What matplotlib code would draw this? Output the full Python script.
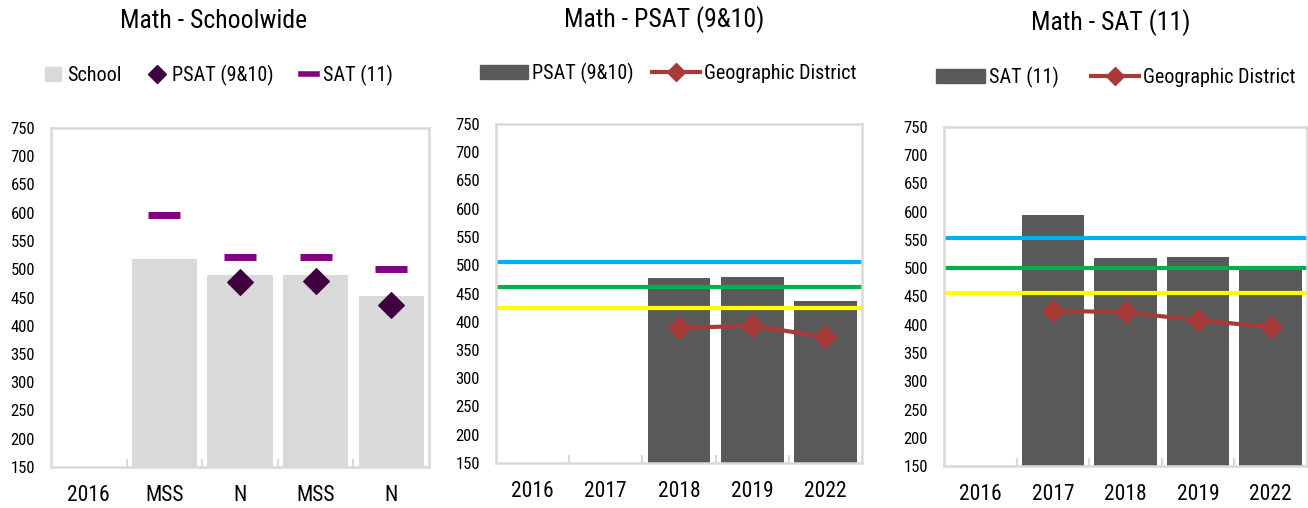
import numpy as np
import matplotlib
matplotlib.use("Agg")
import matplotlib.pyplot as plt
from matplotlib.patches import Patch
from matplotlib.lines import Line2D

plt.rcParams['font.family'] = ['Roboto Condensed', 'DejaVu Sans']
plt.rcParams['font.stretch'] = 'condensed'

# ---- data ----
school_cats = ["2016", "MSS", "N", "MSS", "N"]
school_vals = [np.nan, 518, 490, 490, 452]
school_psat = [np.nan, np.nan, 478, 480, 437]
school_sat = [np.nan, 596, 521, 521, 500]

psat_years = ["2016", "2017", "2018", "2019", "2022"]
psat_vals = [np.nan, np.nan, 478, 480, 436]
psat_district = [np.nan, np.nan, 389, 393, 373]
psat_refs = [505, 462, 424]

sat_years = ["2016", "2017", "2018", "2019", "2022"]
sat_vals = [np.nan, 594, 519, 520, 499]
sat_district = [np.nan, 425, 422, 408, 396]
sat_refs = [554, 501, 457]

ref_colors = ["#00b0f0", "#00b050", "#ffff00"]
light_gray = "#d9d9d9"
dark_gray = "#595959"
dist_red = "#a83a3a"

W, H = 1308, 508
fig = plt.figure(figsize=(W / 100, H / 100), dpi=100)


def make_ax(x0, y0, x1, y1):
    # pixel box -> figure fraction
    return fig.add_axes([x0 / W, 1 - y1 / H, (x1 - x0) / W, (y1 - y0) / H])


def style_ax(ax, cats, title, title_xy):
    ax.set_ylim(150, 750)
    ax.set_xlim(-0.5, len(cats) - 0.5)
    ax.set_yticks(range(150, 751, 50))
    ax.set_xticks(range(len(cats)))
    ax.set_xticklabels(cats, fontsize=15.5)
    ax.set_xticks(np.arange(0.5, len(cats) - 1, 1), minor=True)
    ax.tick_params(axis='x', which='major', length=0, pad=13)
    ax.tick_params(axis='x', which='minor', direction='in', length=6,
                   color=light_gray, width=1.5)
    ax.tick_params(axis='y', length=0, labelsize=12, pad=11.5)
    for s in ax.spines.values():
        s.set_color(light_gray)
        s.set_linewidth(1.8)
    fig.text(title_xy[0] / W, 1 - title_xy[1] / H, title, ha='center', va='center',
             fontsize=18.5)


x = np.arange(5)

# ---- panel 1: schoolwide ----
ax1 = make_ax(51, 128, 429, 467)
ax1.bar(x, school_vals, width=0.86, color=light_gray, zorder=1)
ax1.scatter(x, school_psat, marker='D', s=170, color="#400040", zorder=3)
ax1.scatter(x, school_sat, marker='_', s=500, linewidths=5, color="#800080", zorder=3)
style_ax(ax1, school_cats, "Math - Schoolwide", (214, 21))
h1 = [Patch(color=light_gray),
      Line2D([], [], marker='D', color="#400040", linestyle='none', markersize=9),
      Line2D([], [], color="#800080", linewidth=4)]
ax1.legend(h1, ["School", "PSAT (9&10)", "SAT (11)"], ncol=3, frameon=False,
           loc='center', bbox_to_anchor=(219 / W, 1 - 75 / H),
           bbox_transform=fig.transFigure, fontsize=14.5, handlelength=0.8,
           handletextpad=0.3, columnspacing=1.4, borderpad=0)

# ---- panel 2: PSAT ----
ax2 = make_ax(496, 124, 862, 463)
ax2.bar(x, psat_vals, width=0.86, color=dark_gray, zorder=1)
for v, c in zip(psat_refs, ref_colors):
    ax2.axhline(v, color=c, linewidth=3, zorder=2)
ax2.plot(x, psat_district, color=dist_red, linewidth=3, marker='D', markersize=11,
         zorder=3)
style_ax(ax2, psat_years, "Math - PSAT (9&10)", (664, 20))
h2 = [Patch(color=dark_gray),
      Line2D([], [], color=dist_red, linewidth=3, marker='D', markersize=9)]
ax2.legend(h2, ["PSAT (9&10)", "Geographic District"], ncol=2, frameon=False,
           loc='center', bbox_to_anchor=(668 / W, 1 - 73 / H),
           bbox_transform=fig.transFigure, fontsize=14.5, handlelength=2.4,
           handletextpad=0.2, columnspacing=0.9, borderpad=0)

# ---- panel 3: SAT ----
ax3 = make_ax(944, 127, 1307, 466)
ax3.bar(x, sat_vals, width=0.86, color=dark_gray, zorder=1)
for v, c in zip(sat_refs, ref_colors):
    ax3.axhline(v, color=c, linewidth=3, zorder=2)
ax3.plot(x, sat_district, color=dist_red, linewidth=3, marker='D', markersize=11,
         zorder=3)
style_ax(ax3, sat_years, "Math - SAT (11)", (1111, 23))
h3 = [Patch(color=dark_gray),
      Line2D([], [], color=dist_red, linewidth=3, marker='D', markersize=9)]
ax3.legend(h3, ["SAT (11)", "Geographic District"], ncol=2, frameon=False,
           loc='center', bbox_to_anchor=(1116 / W, 1 - 77 / H),
           bbox_transform=fig.transFigure, fontsize=14.5, handlelength=2.4,
           handletextpad=0.2, columnspacing=1.6, borderpad=0)

fig.savefig("out.png", dpi=100)
